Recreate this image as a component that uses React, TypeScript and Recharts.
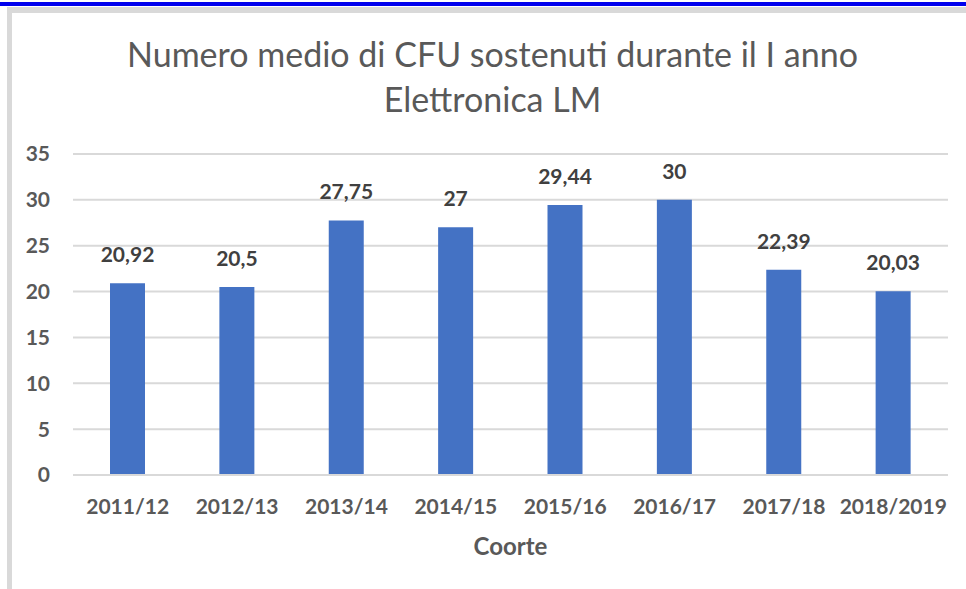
import { BarChart, Bar, XAxis, YAxis, CartesianGrid, LabelList } from 'recharts';

const cohorts = ['2011/12', '2012/13', '2013/14', '2014/15', '2015/16', '2016/17', '2017/18', '2018/2019'];
const avgCfu = [20.92, 20.5, 27.75, 27, 29.44, 30, 22.39, 20.03];
const yTicks = [0, 5, 10, 15, 20, 25, 30, 35];

const chartData = cohorts.map((cohort, i) => ({ cohort, value: avgCfu[i] }));

const FONT = 'Lato, "Open Sans", sans-serif';
const GRAY = '#595959';

export default function App() {
  return (
    <div style={{ position: 'fixed', left: 0, top: 0, width: 966, height: 589, background: '#fff', fontFamily: FONT, overflow: 'hidden' }}>
      {/* blue strip + frame */}
      <div style={{ position: 'absolute', left: 0, top: 2, width: 966, height: 4, background: '#0000ee' }} />
      <div style={{ position: 'absolute', left: 7, top: 7, width: 959, height: 6, background: '#d9d9d9' }} />
      <div style={{ position: 'absolute', left: 7, top: 7, width: 5, height: 582, background: '#d9d9d9' }} />

      <div style={{ position: 'absolute', left: 0, top: 31, width: 985, textAlign: 'center', fontSize: 34, lineHeight: '45px', color: GRAY }}>
        Numero medio di CFU sostenuti durante il I anno
        <br />
        Elettronica LM
      </div>

      <div style={{ position: 'absolute', left: 0, top: 0 }}>
        <BarChart width={966} height={589} data={chartData} margin={{ top: 154, right: 18, bottom: 34, left: 0 }}>
          <CartesianGrid vertical={false} stroke="#d9d9d9" strokeWidth={2} />
          <XAxis
            dataKey="cohort"
            height={80}
            axisLine={{ stroke: '#d9d9d9', strokeWidth: 2 }}
            tickLine={false}
            tickSize={0}
            tickMargin={24}
            interval={0}
            tick={{ fill: GRAY, fontSize: 21, fontWeight: 700, fontFamily: FONT }}
            label={{ value: 'Coorte', position: 'insideBottom', offset: 0, fill: GRAY, fontSize: 24, fontWeight: 700, fontFamily: FONT }}
          />
          <YAxis
            width={73}
            domain={[0, 35]}
            ticks={yTicks}
            axisLine={false}
            tickLine={false}
            tickSize={0}
            tickMargin={23}
            tick={{ fill: GRAY, fontSize: 21, fontWeight: 700, fontFamily: FONT }}
          />
          <Bar dataKey="value" fill="#4472c4" barSize={35} isAnimationActive={false}>
            <LabelList
              dataKey="value"
              position="top"
              offset={21}
              formatter={(v: number) => String(v).replace('.', ',')}
              style={{ fill: '#404040', fontSize: 21, fontWeight: 700, fontFamily: FONT }}
            />
          </Bar>
        </BarChart>
      </div>
    </div>
  );
}
